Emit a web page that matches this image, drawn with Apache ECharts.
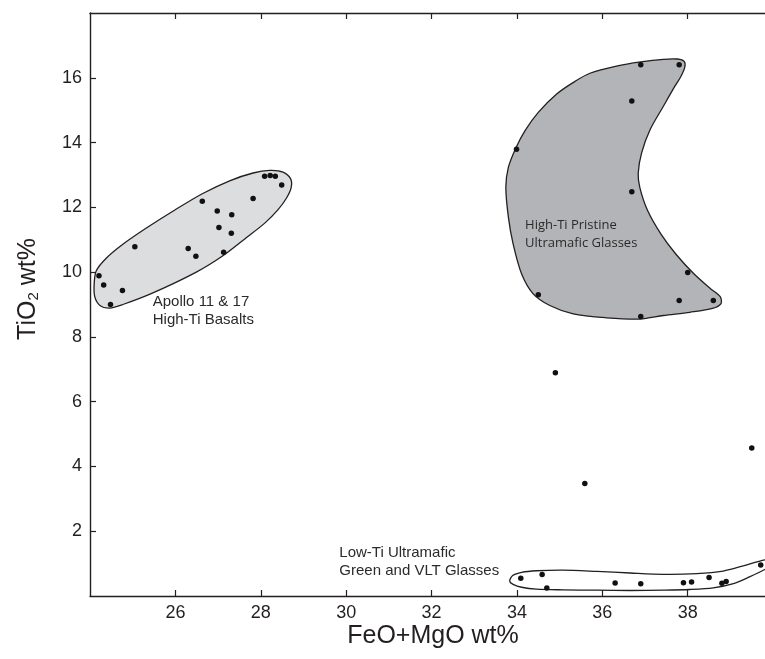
<!DOCTYPE html>
<html>
<head>
<meta charset="utf-8">
<script src="https://cdn.jsdelivr.net/npm/echarts@6/dist/echarts.min.js"></script>
<style>
  html, body { margin: 0; padding: 0; background: #fff; }
  #chart { width: 765px; height: 659px; }
</style>
</head>
<body>
<div id="chart"></div>
<script>
// axis ticks
var xTicks = [26, 28, 30, 32, 34, 36, 38]
var yTicks = [2, 4, 6, 8, 10, 12, 14, 16]

// Apollo 11 & 17 high-Ti basalts
var apolloFeOMgO = [24.21, 24.32, 24.48, 24.76, 25.05, 26.30, 26.48, 27.13, 26.63, 26.98, 27.32, 27.02, 27.31, 27.82, 28.09, 28.22, 28.34, 28.49]
var apolloTiO2 = [9.89, 9.60, 9.00, 9.43, 10.78, 10.73, 10.49, 10.61, 12.19, 11.89, 11.77, 11.38, 11.20, 12.27, 12.96, 12.98, 12.96, 12.69]

// high-Ti pristine ultramafic glasses
var glassFeOMgO = [36.90, 37.80, 36.69, 33.99, 36.69, 38.00, 34.50, 37.80, 38.60, 36.90]
var glassTiO2 = [16.40, 16.40, 15.28, 13.79, 12.48, 9.99, 9.30, 9.12, 9.12, 8.63]

// low-Ti ultramafic green and VLT glasses
var lowTiFeOMgO = [34.09, 34.59, 34.70, 36.30, 36.90, 37.90, 38.09, 38.50, 38.80, 38.90, 39.71]
var lowTiTiO2 = [0.55, 0.66, 0.25, 0.40, 0.38, 0.41, 0.43, 0.57, 0.39, 0.45, 0.96]

// unassigned glasses
var otherFeOMgO = [34.90, 35.59, 39.50]
var otherTiO2 = [6.89, 3.47, 4.57]

// field outlines [FeO+MgO, TiO2]
var apolloOutline = [
  [24.15, 10.05], [24.38, 10.43], [24.77, 10.86], [25.32, 11.36], [25.94, 11.88],
  [26.63, 12.42], [27.27, 12.82], [27.82, 13.06], [28.21, 13.14], [28.52, 13.09],
  [28.70, 12.88], [28.71, 12.60], [28.60, 12.28], [28.40, 11.92], [28.10, 11.52],
  [27.66, 11.06], [27.13, 10.52], [26.49, 10.00], [25.46, 9.35], [24.77, 9.00],
  [24.46, 8.89], [24.24, 8.96], [24.11, 9.25], [24.10, 9.69]
]
var glassOutline = [
  [35.71, 16.14], [36.33, 16.36], [36.90, 16.49], [37.43, 16.57], [37.76, 16.58],
  [37.92, 16.50], [37.93, 16.32], [37.84, 16.04], [37.70, 15.74], [37.43, 15.12],
  [37.12, 14.40], [36.92, 13.68], [36.84, 13.05], [36.88, 12.60], [37.06, 11.90],
  [37.37, 11.18], [37.72, 10.56], [38.15, 9.94], [38.54, 9.48], [38.76, 9.24],
  [38.78, 9.03], [38.58, 8.88], [38.05, 8.76], [37.43, 8.66], [36.88, 8.55],
  [36.10, 8.59], [35.32, 8.71], [34.77, 8.97], [34.38, 9.33], [34.11, 9.94],
  [33.91, 10.87], [33.80, 11.69], [33.74, 12.62], [33.80, 13.24], [33.98, 13.85],
  [34.19, 14.37], [34.50, 14.93], [34.93, 15.50], [35.36, 15.89]
]
var lowTiOutline = [
  [33.83, 0.46], [33.90, 0.63], [34.11, 0.73], [34.46, 0.78], [35.08, 0.80],
  [35.87, 0.76], [36.65, 0.71], [37.43, 0.67], [38.21, 0.69], [38.83, 0.77],
  [39.30, 0.93], [39.69, 1.08], [39.93, 1.13], [40.00, 0.99], [39.85, 0.85],
  [39.46, 0.60], [39.07, 0.38], [38.60, 0.25], [38.05, 0.20], [37.43, 0.18],
  [36.65, 0.17], [35.87, 0.18], [35.08, 0.19], [34.46, 0.21], [34.11, 0.27],
  [33.91, 0.36]
]

// field labels: anchor = left edge, vertical middle of the text block
var fieldLabels = [
  { pos: [25.47, 8.80], text: 'Apollo 11 & 17\nHigh-Ti Basalts', font: '15px "Liberation Sans", Arial, sans-serif', lh: 18 },
  { pos: [34.19, 11.17], text: 'High-Ti Pristine\nUltramafic Glasses', font: '13px "Open Sans", sans-serif', lh: 18 },
  { pos: [29.84, 1.06], text: 'Low-Ti Ultramafic\nGreen and VLT Glasses', font: '15px "Liberation Sans", Arial, sans-serif', lh: 18 }
]

var ink = '#231f20'

function zip(xs, ys) {
  return xs.map(function(x, i) { return [x, ys[i]] })
}

function fieldSeries(outline, fill) {
  return {
    type: 'custom',
    silent: true,
    z: 1,
    data: [outline[0]],
    renderItem: function(params, api) {
      return {
        type: 'polygon',
        shape: { points: outline.map(function(p) { return api.coord(p) }), smooth: 0.3 },
        style: { fill: fill, stroke: ink, lineWidth: 1.3 }
      }
    }
  }
}

var chart = echarts.init(document.getElementById('chart'))

var tickStyle = { show: true, inside: true, length: 6, lineStyle: { color: ink, width: 1.2 } }
var labelFont = {
  color: ink,
  fontSize: 18,
  fontFamily: 'Liberation Sans, Arial, sans-serif',
  margin: 8
}

chart.setOption({
  animation: false,
  backgroundColor: '#fff',
  grid: { left: 90, top: 13, right: 0, height: 583 },
  xAxis: [
    {
      type: 'value',
      position: 'bottom',
      min: 24,
      max: 39.81,
      splitLine: { show: false },
      axisLine: { lineStyle: { color: ink, width: 1.4 } },
      axisTick: Object.assign({ customValues: xTicks }, tickStyle),
      axisLabel: Object.assign({ customValues: xTicks }, labelFont)
    },
    {
      type: 'value',
      position: 'top',
      min: 24,
      max: 39.81,
      splitLine: { show: false },
      axisLine: { lineStyle: { color: ink, width: 1.4 } },
      axisTick: Object.assign({ customValues: xTicks }, tickStyle),
      axisLabel: { show: false }
    }
  ],
  yAxis: {
    type: 'value',
    min: 0,
    max: 18,
    splitLine: { show: false },
    axisLine: { show: true, lineStyle: { color: ink, width: 1.4 } },
    axisTick: Object.assign({ customValues: yTicks }, tickStyle),
    axisLabel: Object.assign({ customValues: yTicks }, labelFont)
  },
  graphic: [
    {
      type: 'text',
      x: 433,
      y: 636,
      style: {
        text: 'FeO+MgO wt%',
        font: '25px "Liberation Sans", Arial, sans-serif',
        fill: ink,
        align: 'center',
        verticalAlign: 'middle'
      }
    },
    {
      type: 'text',
      x: 26,
      y: 289,
      rotation: Math.PI / 2,
      style: {
        text: '{m|TiO}{s|2}{m| wt%}',
        fill: ink,
        align: 'center',
        verticalAlign: 'middle',
        rich: {
          m: { font: '25px "Liberation Sans", Arial, sans-serif', fill: ink, lineHeight: 30, verticalAlign: 'bottom' },
          s: { font: '15px "Liberation Sans", Arial, sans-serif', fill: ink, lineHeight: 24, verticalAlign: 'bottom' }
        }
      }
    }
  ],
  series: [
    fieldSeries(apolloOutline, '#dcdddf'),
    fieldSeries(glassOutline, '#b3b4b7'),
    fieldSeries(lowTiOutline, 'rgba(255,255,255,0)'),
    {
      type: 'custom',
      silent: true,
      z: 3,
      data: fieldLabels.map(function(l) { return l.pos }),
      renderItem: function(params, api) {
        var l = fieldLabels[params.dataIndex]
        var p = api.coord(l.pos)
        return {
          type: 'text',
          x: p[0],
          y: p[1],
          style: { text: l.text, font: l.font, fill: '#2b2b2b', align: 'left', verticalAlign: 'middle', lineHeight: l.lh }
        }
      }
    },
    {
      type: 'scatter',
      z: 4,
      symbolSize: 5.5,
      itemStyle: { color: '#111', opacity: 1 },
      data: zip(apolloFeOMgO, apolloTiO2)
        .concat(zip(glassFeOMgO, glassTiO2))
        .concat(zip(lowTiFeOMgO, lowTiTiO2))
        .concat(zip(otherFeOMgO, otherTiO2))
    }
  ]
})
</script>
</body>
</html>
